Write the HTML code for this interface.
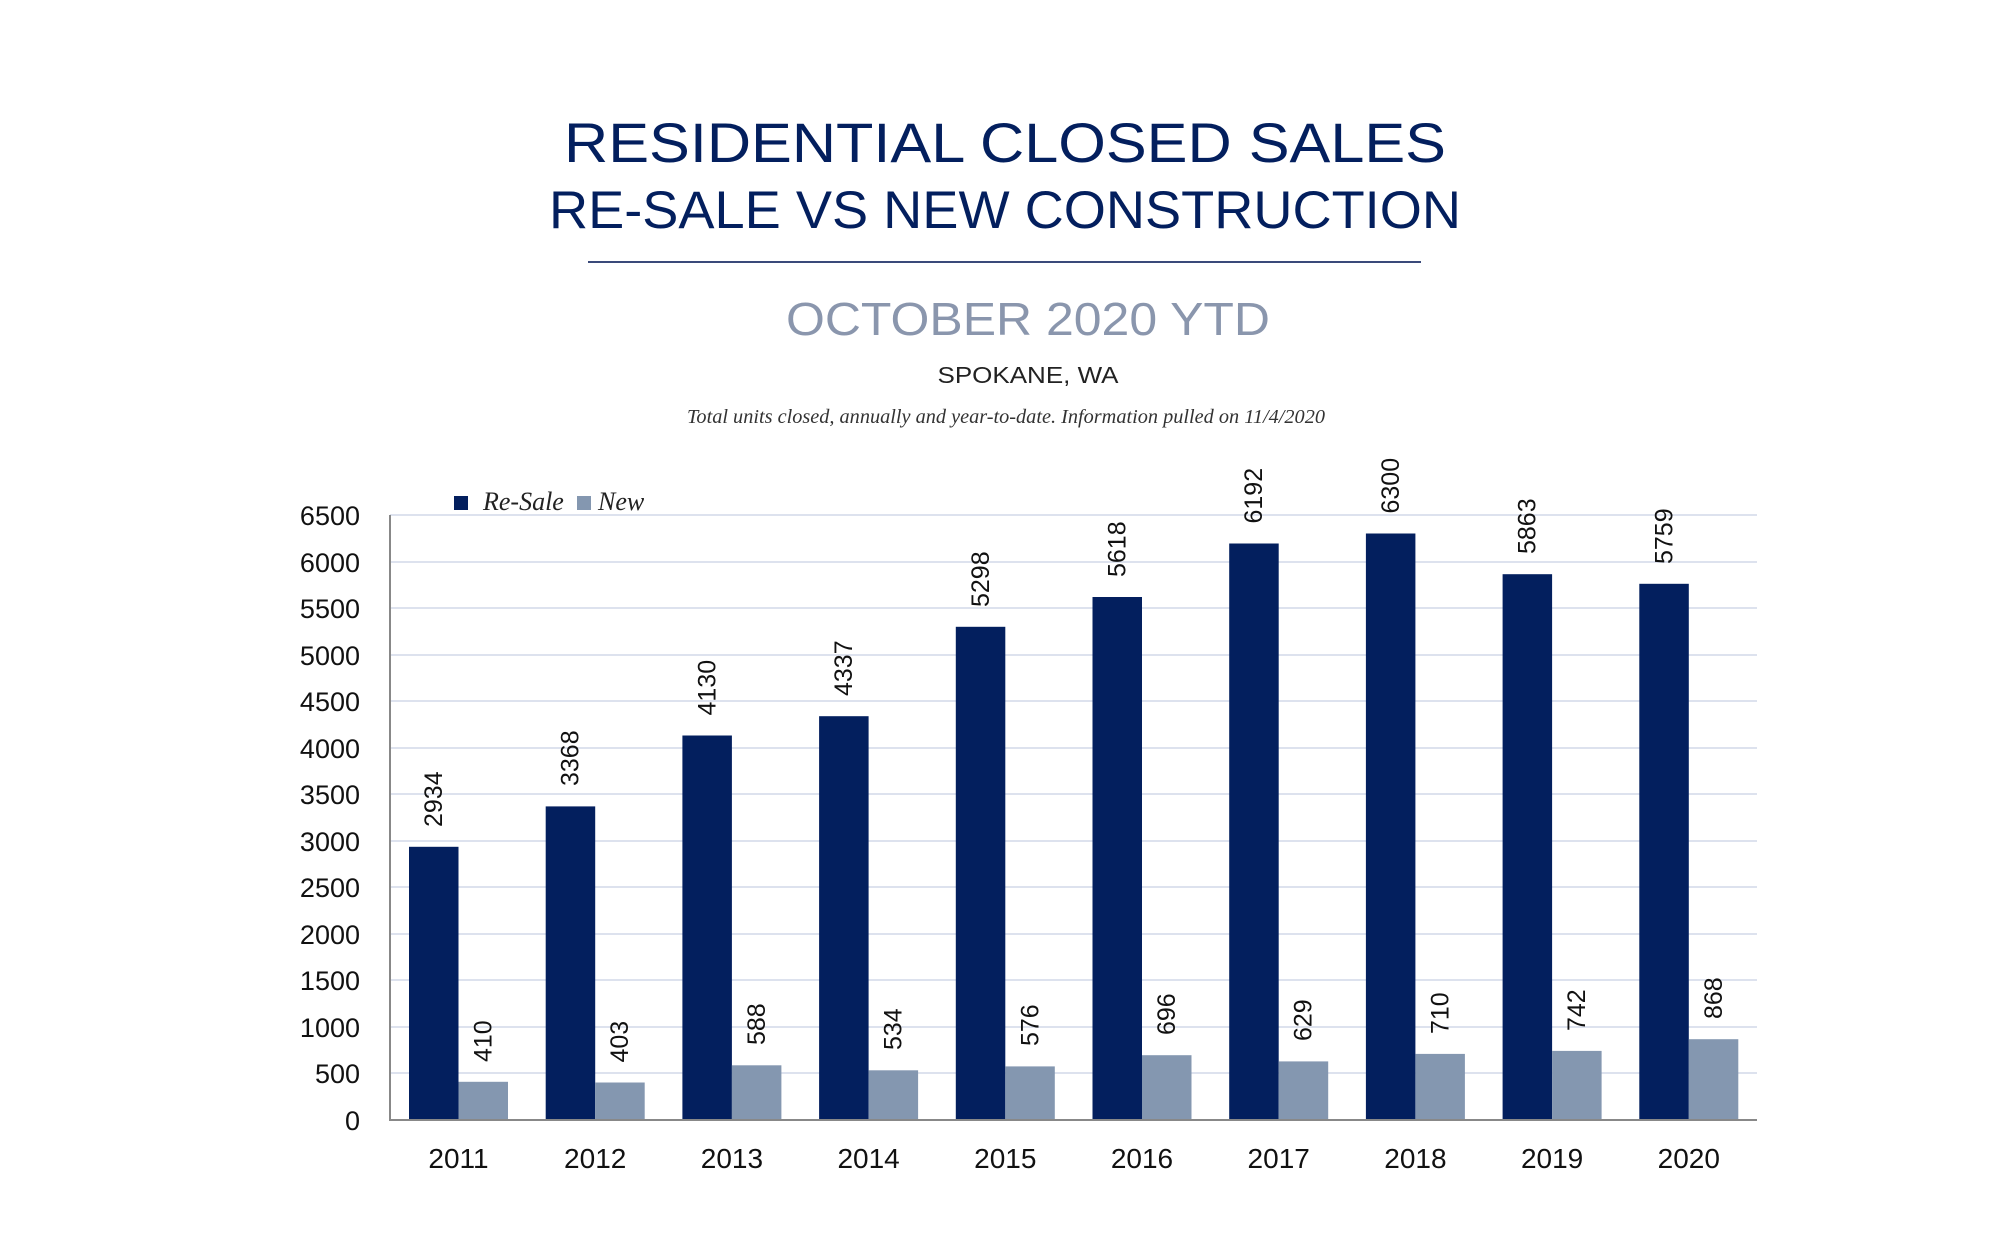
<!DOCTYPE html>
<html><head><meta charset="utf-8"><style>
html,body{margin:0;padding:0;background:#fff;}
svg{display:block;}
</style></head><body>
<svg width="2000" height="1250" viewBox="0 0 2000 1250" xmlns="http://www.w3.org/2000/svg">
<rect width="2000" height="1250" fill="#fff"/>
<g font-family="Liberation Sans, sans-serif" text-anchor="middle">
<text x="1005" y="162" font-size="56" fill="#031f5e" textLength="882" lengthAdjust="spacingAndGlyphs">RESIDENTIAL CLOSED SALES</text>
<text x="1005" y="228" font-size="53" fill="#031f5e" textLength="912" lengthAdjust="spacingAndGlyphs">RE-SALE VS NEW CONSTRUCTION</text>
<line x1="588" y1="262" x2="1421" y2="262" stroke="#3a4a7a" stroke-width="2"/>
<text x="1028" y="335" font-size="46" fill="#8a96ad" textLength="484" lengthAdjust="spacingAndGlyphs">OCTOBER 2020 YTD</text>
<text x="1028" y="383" font-size="23" fill="#222" textLength="181" lengthAdjust="spacingAndGlyphs">SPOKANE, WA</text>
</g>
<text x="1006" y="423" font-family="Liberation Serif, serif" font-style="italic" font-size="20" fill="#333" text-anchor="middle" textLength="638" lengthAdjust="spacingAndGlyphs">Total units closed, annually and year-to-date.  Information pulled on 11/4/2020</text>

<g stroke="#dde2ee" stroke-width="2">
<line x1="390" x2="1757" y1="515" y2="515"/><line x1="390" x2="1757" y1="562" y2="562"/>
<line x1="390" x2="1757" y1="608" y2="608"/><line x1="390" x2="1757" y1="655" y2="655"/>
<line x1="390" x2="1757" y1="701" y2="701"/><line x1="390" x2="1757" y1="748" y2="748"/>
<line x1="390" x2="1757" y1="794" y2="794"/><line x1="390" x2="1757" y1="841" y2="841"/>
<line x1="390" x2="1757" y1="887" y2="887"/><line x1="390" x2="1757" y1="934" y2="934"/>
<line x1="390" x2="1757" y1="980" y2="980"/><line x1="390" x2="1757" y1="1027" y2="1027"/>
<line x1="390" x2="1757" y1="1073" y2="1073"/>
</g>
<g font-family="Liberation Sans, sans-serif" font-size="27" fill="#111" text-anchor="end">
<text x="360" y="525">6500</text><text x="360" y="572">6000</text><text x="360" y="618">5500</text>
<text x="360" y="665">5000</text><text x="360" y="711">4500</text><text x="360" y="758">4000</text>
<text x="360" y="804">3500</text><text x="360" y="851">3000</text><text x="360" y="897">2500</text>
<text x="360" y="944">2000</text><text x="360" y="990">1500</text><text x="360" y="1037">1000</text>
<text x="360" y="1083">500</text><text x="360" y="1130">0</text>
</g>
<g fill="#031f5e">
<rect x="409" y="846.8" width="49.5" height="273.2"/>
<rect x="545.7" y="806.4" width="49.5" height="313.6"/>
<rect x="682.4" y="735.5" width="49.5" height="384.5"/>
<rect x="819.1" y="716.2" width="49.5" height="403.8"/>
<rect x="955.8" y="626.8" width="49.5" height="493.2"/>
<rect x="1092.5" y="597" width="49.5" height="523"/>
<rect x="1229.2" y="543.5" width="49.5" height="576.5"/>
<rect x="1365.9" y="533.5" width="49.5" height="586.5"/>
<rect x="1502.6" y="574.2" width="49.5" height="545.8"/>
<rect x="1639.3" y="583.8" width="49.5" height="536.2"/>
</g>
<g fill="#8497b0">
<rect x="458.5" y="1081.8" width="49.5" height="38.2"/>
<rect x="595.2" y="1082.5" width="49.5" height="37.5"/>
<rect x="731.9" y="1065.3" width="49.5" height="54.7"/>
<rect x="868.6" y="1070.3" width="49.5" height="49.7"/>
<rect x="1005.3" y="1066.4" width="49.5" height="53.6"/>
<rect x="1142" y="1055.2" width="49.5" height="64.8"/>
<rect x="1278.7" y="1061.4" width="49.5" height="58.6"/>
<rect x="1415.4" y="1053.9" width="49.5" height="66.1"/>
<rect x="1552.1" y="1050.9" width="49.5" height="69.1"/>
<rect x="1688.8" y="1039.2" width="49.5" height="80.8"/>
</g>
<g font-family="Liberation Sans, sans-serif" font-size="25" fill="#111">
<text transform="translate(442,827) rotate(-90)">2934</text>
<text transform="translate(578.7,786) rotate(-90)">3368</text>
<text transform="translate(715.4,715.5) rotate(-90)">4130</text>
<text transform="translate(852.1,696) rotate(-90)">4337</text>
<text transform="translate(988.8,607) rotate(-90)">5298</text>
<text transform="translate(1125.5,577) rotate(-90)">5618</text>
<text transform="translate(1262.2,523.5) rotate(-90)">6192</text>
<text transform="translate(1398.9,513.5) rotate(-90)">6300</text>
<text transform="translate(1535.6,554) rotate(-90)">5863</text>
<text transform="translate(1672.3,564) rotate(-90)">5759</text>
<text transform="translate(491.5,1062) rotate(-90)">410</text>
<text transform="translate(628.2,1062.5) rotate(-90)">403</text>
<text transform="translate(764.9,1045) rotate(-90)">588</text>
<text transform="translate(901.6,1050) rotate(-90)">534</text>
<text transform="translate(1038.3,1046) rotate(-90)">576</text>
<text transform="translate(1175,1035) rotate(-90)">696</text>
<text transform="translate(1311.7,1041) rotate(-90)">629</text>
<text transform="translate(1448.4,1034) rotate(-90)">710</text>
<text transform="translate(1585.1,1031) rotate(-90)">742</text>
<text transform="translate(1721.8,1019) rotate(-90)">868</text>
</g>
<g font-family="Liberation Sans, sans-serif" font-size="28" fill="#111" text-anchor="middle">
<text x="458.5" y="1168">2011</text><text x="595.2" y="1168">2012</text><text x="731.9" y="1168">2013</text>
<text x="868.6" y="1168">2014</text><text x="1005.3" y="1168">2015</text><text x="1142" y="1168">2016</text>
<text x="1278.7" y="1168">2017</text><text x="1415.4" y="1168">2018</text><text x="1552.1" y="1168">2019</text>
<text x="1688.8" y="1168">2020</text>
</g>
<line x1="390" y1="515" x2="390" y2="1121" stroke="#888" stroke-width="2"/>
<line x1="389" y1="1120" x2="1757" y2="1120" stroke="#888" stroke-width="2"/>
<rect x="454" y="496" width="14" height="14" fill="#031f5e"/>
<text x="483" y="510" font-family="Liberation Serif, serif" font-style="italic" font-size="26" fill="#222">Re-Sale</text>
<rect x="577" y="496" width="14" height="14" fill="#8497b0"/>
<text x="598" y="510" font-family="Liberation Serif, serif" font-style="italic" font-size="26" fill="#222">New</text>
</svg>
</body></html>
